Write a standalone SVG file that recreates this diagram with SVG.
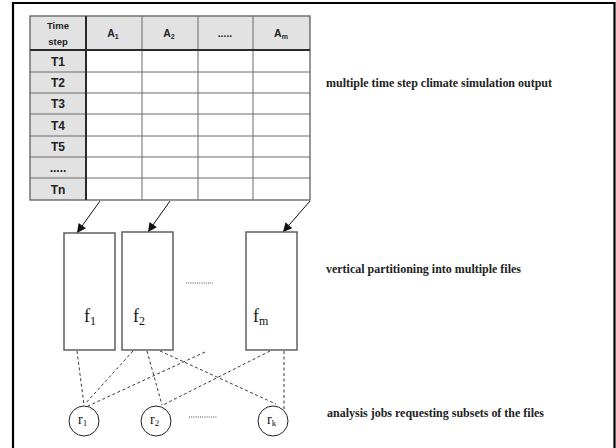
<svg xmlns="http://www.w3.org/2000/svg" width="616" height="448" viewBox="0 0 616 448">
<style>
.frame{fill:none;stroke:#000;stroke-width:2.2}
.hdr{fill:#e2e2e2}
.cell{fill:#fff}
.grid{stroke:#6a6a6a;stroke-width:1;fill:none}
.thick{stroke:#2a2a2a;stroke-width:2;fill:none}
.ts{font-family:"Liberation Sans",Arial,sans-serif;font-weight:bold;fill:#222;text-anchor:middle}
.file{fill:#fff;stroke:#555;stroke-width:1.4}
.job{fill:#fff;stroke:#222;stroke-width:1}
.lbl{font-family:"Liberation Serif","Times New Roman",serif;fill:#111}
.note{font-family:"Liberation Serif","Times New Roman",serif;font-weight:bold;font-size:12.5px;fill:#222}
.arrow{stroke:#111;stroke-width:1;fill:none;marker-end:url(#ah)}
.dash{stroke:#222;stroke-width:0.9;stroke-dasharray:3,2.5;fill:none}
.dots{stroke:#333;stroke-width:0.9;stroke-dasharray:1,1.2}
</style>
<defs>
<marker id="ah" viewBox="0 0 10 10" refX="10" refY="5" markerWidth="11" markerHeight="9" markerUnits="userSpaceOnUse" orient="auto">
<path d="M0,0 L10,5 L0,10 z" fill="#111"/>
</marker>
</defs>
<path class="frame" d="M13,448 V3 H614.5 V448"/>
<g id="table">
<rect class="hdr" x="30" y="16" width="280" height="34"/>
<rect class="hdr" x="30" y="50" width="56" height="150"/>
<rect class="cell" x="86" y="50" width="224" height="150"/>
<g class="grid">
<line x1="142" y1="16" x2="142" y2="200"/>
<line x1="198" y1="16" x2="198" y2="200"/>
<line x1="253" y1="16" x2="253" y2="200"/>
<line x1="30" y1="72" x2="310" y2="72"/>
<line x1="30" y1="93" x2="310" y2="93"/>
<line x1="30" y1="114" x2="310" y2="114"/>
<line x1="30" y1="136" x2="310" y2="136"/>
<line x1="30" y1="157" x2="310" y2="157"/>
<line x1="30" y1="178" x2="310" y2="178"/>
<rect x="30" y="16" width="280" height="184" stroke-width="1.4"/>
</g>
<line class="thick" x1="86" y1="16" x2="86" y2="200"/>
<line class="thick" x1="30" y1="50" x2="310" y2="50"/>
<text class="ts" x="58" y="29" font-size="9.5">Time</text>
<text class="ts" x="58" y="45" font-size="9.5">step</text>
<text class="ts" x="113" y="37" font-size="10.5">A<tspan font-size="7" dy="2">1</tspan></text>
<text class="ts" x="169" y="37" font-size="10.5">A<tspan font-size="7" dy="2">2</tspan></text>
<text class="ts" x="225" y="37" font-size="10.5">.....</text>
<text class="ts" x="281" y="37" font-size="10.5">A<tspan font-size="7" dy="2">m</tspan></text>
<text class="ts" x="58" y="66" font-size="12">T1</text>
<text class="ts" x="58" y="87" font-size="12">T2</text>
<text class="ts" x="58" y="108" font-size="12">T3</text>
<text class="ts" x="58" y="130" font-size="12">T4</text>
<text class="ts" x="58" y="151" font-size="12">T5</text>
<text class="ts" x="58" y="172" font-size="12">.....</text>
<text class="ts" x="58" y="194" font-size="12">Tn</text>
</g>
<g id="connectors">
<line class="arrow" x1="100" y1="201" x2="77" y2="233"/>
<line class="arrow" x1="170" y1="201" x2="148" y2="232"/>
<line class="arrow" x1="310" y1="201" x2="283" y2="232"/>
<line class="dash" x1="77" y1="351" x2="84" y2="405"/>
<line class="dash" x1="133" y1="351" x2="85" y2="404"/>
<line class="dash" x1="205" y1="352" x2="88" y2="406"/>
<line class="dash" x1="147" y1="351" x2="162" y2="405"/>
<line class="dash" x1="160" y1="351" x2="276" y2="404"/>
<line class="dash" x1="270" y1="351" x2="163" y2="405"/>
<line class="dash" x1="284" y1="351" x2="284" y2="409"/>
</g>
<g id="f1">
<rect class="file" x="64" y="233" width="51" height="117"/>
<text class="lbl" x="84" y="322" font-size="18">f<tspan font-size="12" dy="3">1</tspan></text>
</g>
<g id="f2">
<rect class="file" x="122" y="232" width="51" height="118"/>
<text class="lbl" x="133" y="322" font-size="18">f<tspan font-size="12" dy="3">2</tspan></text>
</g>
<g id="fm">
<rect class="file" x="246" y="232" width="51" height="118"/>
<text class="lbl" x="253" y="322" font-size="18">f<tspan font-size="12" dy="3">m</tspan></text>
</g>
<line class="dots" x1="186" y1="283" x2="213" y2="283"/>
<g id="r1">
<ellipse class="job" cx="84" cy="421" rx="15" ry="15"/>
<text class="lbl" x="78" y="424" font-size="14">r<tspan font-size="9" dy="2">1</tspan></text>
</g>
<g id="r2">
<ellipse class="job" cx="156" cy="421" rx="15" ry="15"/>
<text class="lbl" x="150" y="424" font-size="14">r<tspan font-size="9" dy="2">2</tspan></text>
</g>
<g id="rk">
<ellipse class="job" cx="273" cy="421" rx="15" ry="15"/>
<text class="lbl" x="267" y="424" font-size="14">r<tspan font-size="9" dy="2">k</tspan></text>
</g>
<line class="dots" x1="189" y1="417" x2="217" y2="417"/>
<text class="note" x="326" y="87" textLength="226" lengthAdjust="spacingAndGlyphs">multiple time step climate simulation output</text>
<text class="note" x="326" y="273" textLength="195" lengthAdjust="spacingAndGlyphs">vertical partitioning into multiple files</text>
<text class="note" x="327" y="417" textLength="217" lengthAdjust="spacingAndGlyphs">analysis jobs requesting subsets of the files</text>
</svg>
